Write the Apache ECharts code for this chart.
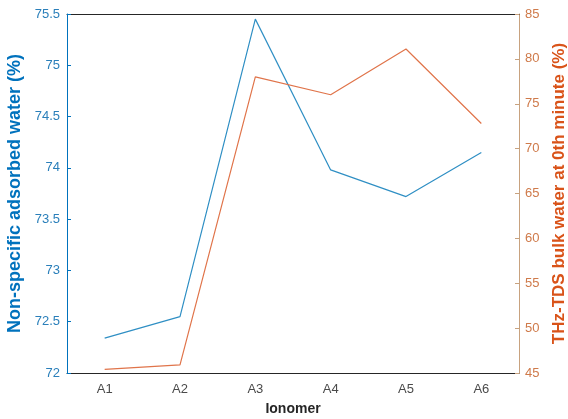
<!DOCTYPE html>
<html>
<head>
<meta charset="utf-8">
<script src="https://cdn.jsdelivr.net/npm/echarts@6/dist/echarts.min.js"></script>
<style>
  html, body { margin: 0; padding: 0; background: #fff; }
  #chart { width: 568px; height: 419px; }
</style>
</head>
<body>
<div id="chart"></div>
<script>
const categories = ['A1', 'A2', 'A3', 'A4', 'A5', 'A6']
const adsorbedWater = [72.34, 72.55, 75.45, 73.98, 73.72, 74.15] // left axis
const bulkWater = [45.4, 45.9, 78.0, 76.0, 81.1, 72.8] // right axis

const blue = '#0072BD'
const orange = '#D95319'
const font = 'Liberation Sans, Arial, sans-serif'

const chart = echarts.init(document.getElementById('chart'))

chart.setOption({
  animation: false,
  grid: { left: 67, right: 49, top: 14, bottom: 46, outerBoundsMode: 'none' },
  xAxis: [{
    type: 'category',
    data: categories,
    name: 'Ionomer',
    nameLocation: 'middle',
    nameGap: 29,
    nameTextStyle: { fontFamily: font, fontSize: 14, fontWeight: 'bold', color: '#262626' },
    axisLine: { lineStyle: { color: '#262626', width: 1 } },
    axisTick: { inside: true, alignWithLabel: true, length: 4, lineStyle: { color: '#262626' } },
    axisLabel: { fontFamily: font, fontSize: 13, color: '#4a4a4a', margin: 10 },
    splitLine: { show: false }
  }, {
    type: 'category',
    data: categories,
    position: 'top',
    axisLine: { lineStyle: { color: '#262626', width: 1 } },
    axisTick: { inside: true, alignWithLabel: true, length: 4, lineStyle: { color: '#262626' } },
    axisLabel: { show: false }
  }],
  yAxis: [{
    type: 'value',
    min: 72,
    max: 75.5,
    interval: 0.5,
    name: 'Non-specific adsorbed water (%)',
    nameLocation: 'middle',
    nameGap: 38,
    nameTextStyle: { fontFamily: font, fontSize: 18, fontWeight: 'bold', color: blue },
    axisLine: { show: true, lineStyle: { color: blue } },
    axisTick: { show: true, inside: true, length: 4, lineStyle: { color: blue } },
    axisLabel: { fontFamily: font, fontSize: 13, color: '#2a7fba', margin: 7 },
    splitLine: { show: false }
  }, {
    type: 'value',
    min: 45,
    max: 85,
    interval: 5,
    name: 'THz-TDS bulk water at 0th minute (%)',
    nameLocation: 'middle',
    nameGap: 28,
    nameRotate: 90,
    nameTextStyle: { fontFamily: font, fontSize: 17, fontWeight: 'bold', color: orange },
    axisLine: { show: true, lineStyle: { color: '#c8a27f' } },
    axisTick: { show: true, inside: true, length: 4, lineStyle: { color: '#c8a27f' } },
    axisLabel: { fontFamily: font, fontSize: 13, color: '#cf7a4a', margin: 6 },
    splitLine: { show: false }
  }],
  series: [{
    type: 'line',
    yAxisIndex: 0,
    data: adsorbedWater,
    symbol: 'none',
    lineStyle: { color: '#2f8fc4', width: 1.2 }
  }, {
    type: 'line',
    yAxisIndex: 1,
    data: bulkWater,
    symbol: 'none',
    lineStyle: { color: '#e0744a', width: 1.2 }
  }]
})
</script>
</body>
</html>
